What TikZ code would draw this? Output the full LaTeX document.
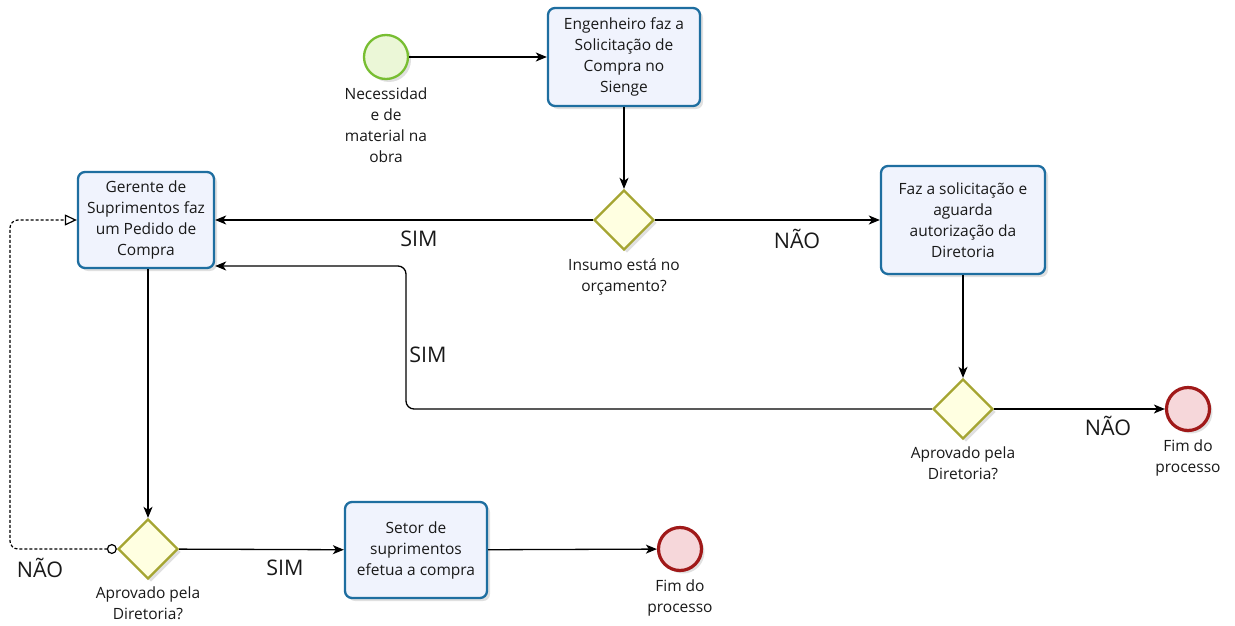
\documentclass[tikz,border=0pt]{standalone}
\usepackage{fontspec}
\setmainfont{Open Sans}
\usetikzlibrary{shapes.geometric,arrows.meta,shadows}
\definecolor{taskb}{RGB}{30,110,160}
\definecolor{taskf}{RGB}{240,243,253}
\definecolor{gateb}{RGB}{165,165,50}
\definecolor{gatef}{RGB}{255,255,225}
\definecolor{startb}{RGB}{120,190,50}
\definecolor{startf}{RGB}{235,247,215}
\definecolor{endb}{RGB}{160,25,25}
\definecolor{endf}{RGB}{246,215,218}
\definecolor{txt}{RGB}{25,25,25}
\tikzset{
  shd/.style={drop shadow={shadow xshift=3pt,shadow yshift=-3pt,fill=black,opacity=0.12}},
  task/.style={draw=taskb,fill=taskf,line width=2.3pt,rounded corners=7pt,align=center,
    inner sep=0pt,text=txt,font=\fontsize{15.5}{21}\selectfont,shd},
  gate/.style={diamond,draw=gateb,fill=gatef,line width=2.3pt,minimum width=60pt,minimum height=60pt,inner sep=0pt,shd},
  startev/.style={circle,draw=startb,fill=startf,line width=2.3pt,minimum size=44pt,inner sep=0pt,shd},
  endev/.style={circle,draw=endb,fill=endf,line width=3.2pt,minimum size=43pt,inner sep=0pt,shd},
  lbl/.style={align=center,text=txt,font=\fontsize{15.5}{21}\selectfont,inner sep=0pt},
  flab/.style={text=txt,font=\fontsize{21.5}{24}\selectfont,inner sep=0pt},
  arr/.style={-{Stealth[length=11pt,width=9pt,inset=3pt]},line width=1.3pt,black},
  dflow/.style={{Circle[open,length=10pt,width=10pt,line width=1.2pt]}-{Triangle[open,length=12pt,width=11pt,line width=1.2pt]},dash pattern=on 3pt off 2pt,line width=1.2pt,black}
}
\begin{document}
\begin{tikzpicture}[x=1pt,y=-1pt]
\useasboundingbox[fill=white] (0,0) rectangle (1235,626);
% nodes
\node[startev] (s) at (386,57) {};
\node[lbl,anchor=north] (sl) at (386,88) {Necessidad\\e de\\material na\\obra};
\node[task,minimum width=152pt,minimum height=98pt] (t1) at (624,57) {Engenheiro faz a\\Solicitação de\\Compra no\\Sienge};
\node[gate] (d1) at (624,220) {};
\node[lbl,anchor=north] (d1l) at (624,258) {Insumo está no\\orçamento?};
\node[task,minimum width=136pt,minimum height=96pt] (t2) at (146,220) {Gerente de\\Suprimentos faz\\um Pedido de\\Compra};
\node[task,minimum width=164pt,minimum height=108pt] (t3) at (963,220) {Faz a solicitação e\\aguarda\\autorização da\\Diretoria};
\node[gate] (d2) at (963,409) {};
\node[lbl,anchor=north] (d2l) at (963,447) {Aprovado pela\\Diretoria?};
\node[endev] (e1) at (1188,409) {};
\node[lbl,anchor=north] (e1l) at (1188,440) {Fim do\\processo};
\node[gate] (d3) at (148,549) {};
\node[lbl,anchor=north] (d3l) at (148,587) {Aprovado pela\\Diretoria?};
\node[task,minimum width=142pt,minimum height=96pt] (t4) at (416,550) {Setor de\\suprimentos\\efetua a compra};
\node[endev] (e2) at (680,549) {};
\node[lbl,anchor=north] (e2l) at (680,580) {Fim do\\processo};
% flow labels
\node[flab] (l1) at (419,239) {SIM};
\node[flab] (l2) at (797,239) {NÃO};
\node[flab] (l3) at (428,355) {SIM};
\node[flab] (l4) at (1108,426) {NÃO};
\node[flab] (l5) at (285,568) {SIM};
\node[flab] (l6) at (40,568) {NÃO};
% connectors
\coordinate (c1) at (406,409);
\coordinate (c2) at (406,266);
\coordinate (c3) at (10,549);
\coordinate (c4) at (10,220);
\draw[arr] (s) -- (t1);
\draw[arr] (t1) -- (d1);
\draw[arr] (d1) -- (t2);
\draw[arr] (d1) -- (t3);
\draw[arr] (t3) -- (d2);
\draw[arr] (d2) -- (e1);
\draw[arr,rounded corners=8pt] (d2.west) -- (c1) -- (c2) -- (c2 -| t2.east);
\draw[arr] (t2.south -| d3.north) -- (d3);
\draw[arr] (d3) -- (t4);
\draw[arr] (t4) -- (e2);
\draw[dflow,rounded corners=8pt] (d3.west) -- (c3) -- (c4) -- (t2.west);
\end{tikzpicture}
\end{document}
